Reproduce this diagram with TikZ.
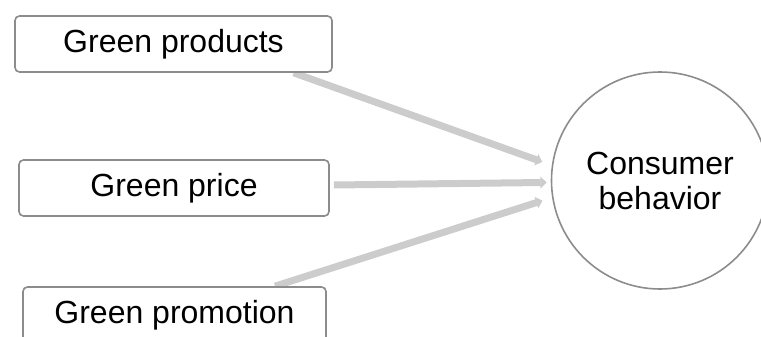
\documentclass[tikz,border=0pt]{standalone}
\usepackage{fontspec}
\setmainfont{Liberation Sans}
\usetikzlibrary{arrows.meta,calc,backgrounds}
\definecolor{boxgray}{HTML}{8C8C8C}
\definecolor{arrowgray}{HTML}{CCCCCC}
\tikzset{
  box/.style={draw=boxgray, line width=0.8pt, rounded corners=2.2pt, fill=white,
    minimum height=28pt, inner sep=0pt, font=\fontsize{16}{17.5}\selectfont},
  bubble/.style={draw=boxgray, line width=0.8pt, circle, fill=white, minimum size=108.5pt,
    inner sep=0pt, align=center, font=\fontsize{16}{17.5}\selectfont},
  flow/.style={draw=arrowgray, line width=3.5pt,
    -{Triangle[length=3.2pt,width=5.8pt,fill=arrowgray]}}
}
\begin{document}
\begin{tikzpicture}[x=0.5pt,y=-0.5pt]
\useasboundingbox (0,0) rectangle (761,337);
\clip (0,0) rectangle (761,337);
\node[box, minimum width=158.5pt] (b1) at (173.5,44) {Green products};
\node[box, minimum width=155pt] (b2) at (174,188) {Green price};
\node[box, minimum width=151.5pt] (b3) at (174.5,315) {Green promotion};
\node[bubble] (c) at (660,180.5) {Consumer\\behavior};
\begin{scope}[on background layer]
\draw[flow, shorten >=5pt] ($(b1.south west)!0.877!(b1.south east)$) -- (c.172.5);
\draw[flow, shorten >=2pt] ([xshift=2pt,yshift=1.5pt]b2.east) -- (c.181);
\draw[flow, shorten >=5pt] ($(b3.north west)!0.83!(b3.north east)$) -- (c.189.5);
\end{scope}
\end{tikzpicture}
\end{document}
